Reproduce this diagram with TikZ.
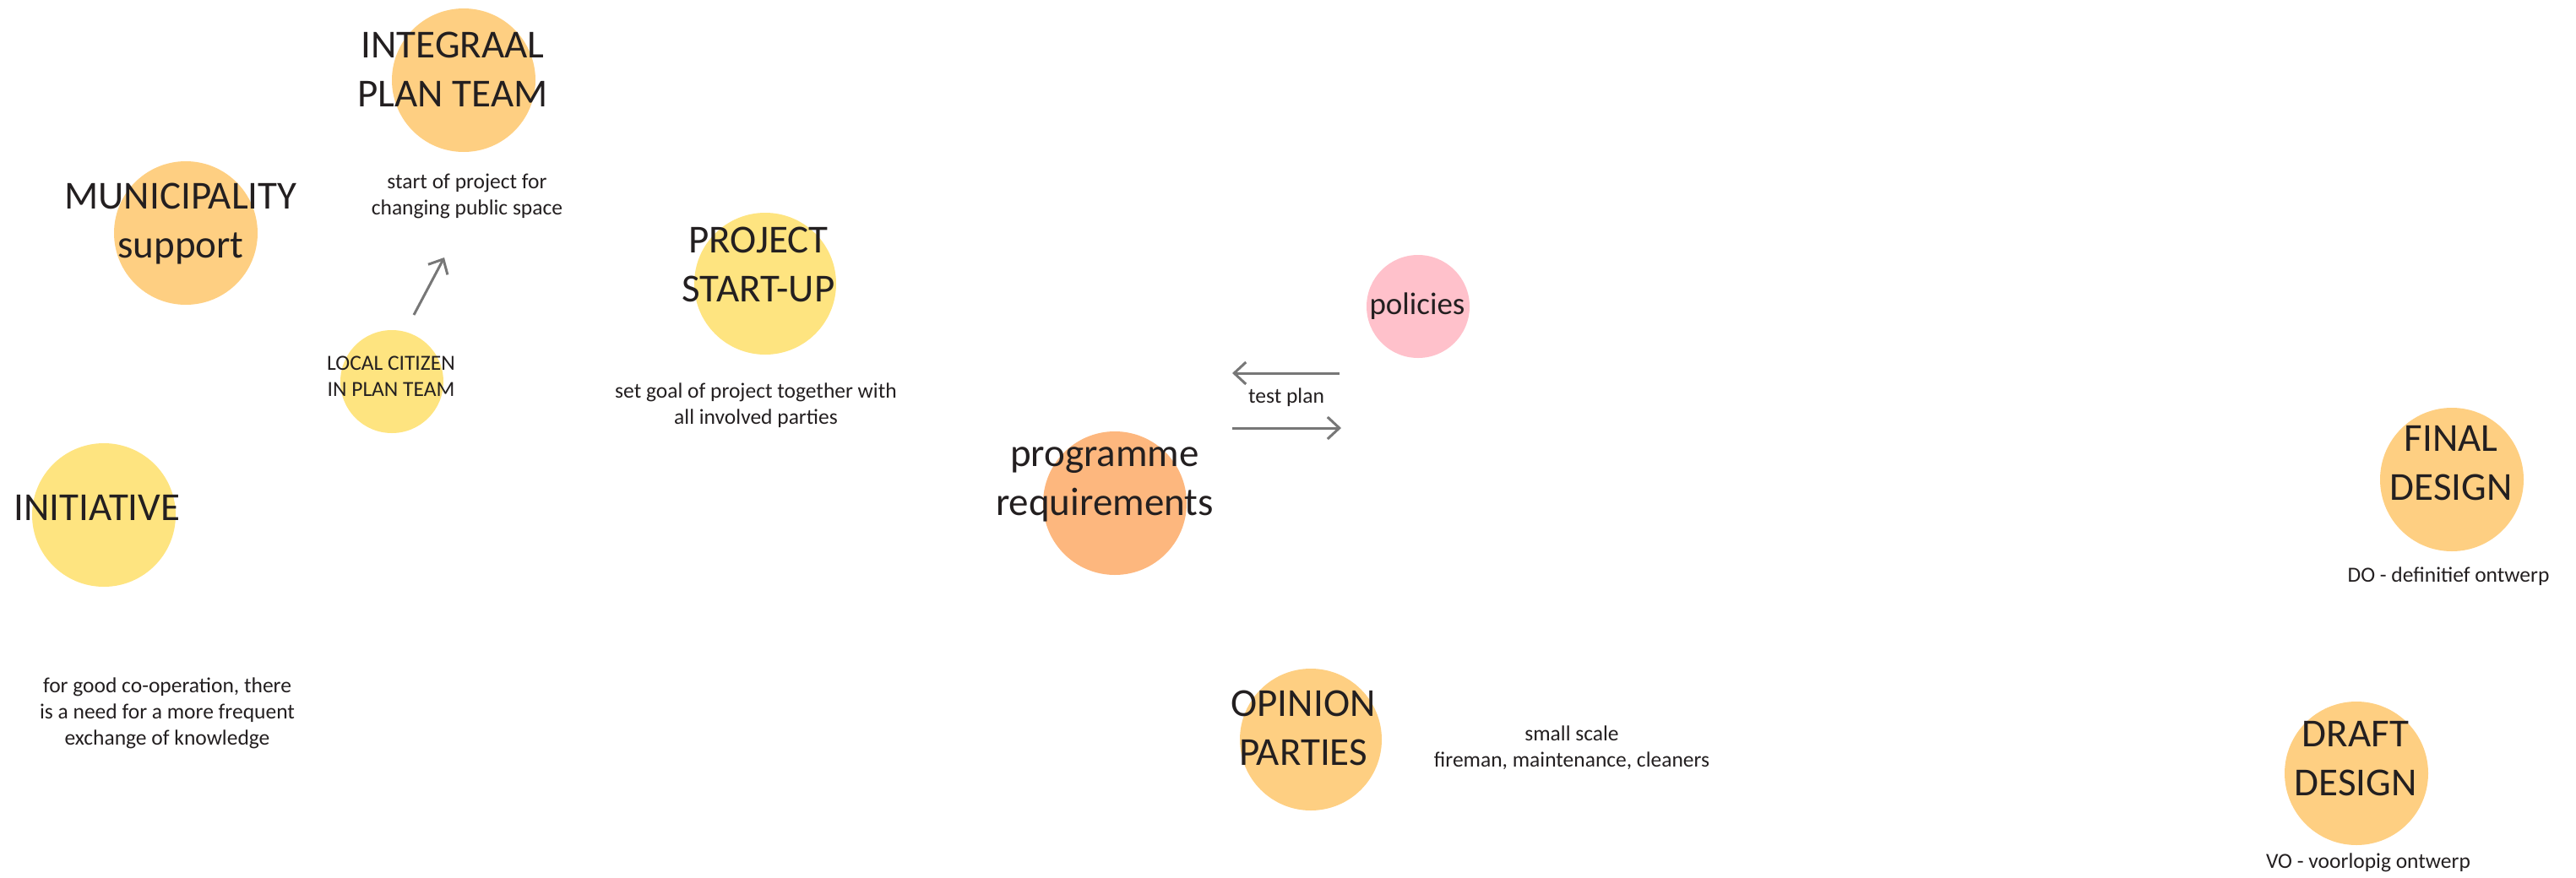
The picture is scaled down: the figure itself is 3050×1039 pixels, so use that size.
\documentclass[tikz,border=0pt]{standalone}
\usepackage{fontspec}
\setmainfont{Carlito}
\usetikzlibrary{arrows.meta}
\definecolor{blobOrange}{HTML}{FECF82}
\definecolor{blobYellow}{HTML}{FEE480}
\definecolor{blobPeach}{HTML}{FDB77E}
\definecolor{blobPink}{HTML}{FFC1CB}
\definecolor{inkDark}{HTML}{231F20}
\definecolor{arrowGray}{HTML}{777777}
\tikzset{
  blob/.style={circle, draw=none, inner sep=0pt},
  bigtext/.style={font=\fontsize{47}{57.5}\selectfont, text=inkDark, align=center, inner sep=0pt, anchor=base},
  midtext/.style={font=\fontsize{37}{44}\selectfont, text=inkDark, align=center, inner sep=0pt, anchor=base},
  smalltext/.style={font=\fontsize{25.5}{31}\selectfont, text=inkDark, align=center, inner sep=0pt, anchor=base},
  flowarrow/.style={draw=arrowGray, line width=3pt, -{Straight Barb[length=14pt,width=26pt,line width=3pt]}}
}
\begin{document}
\begin{tikzpicture}[x=1pt,y=-1pt]
\useasboundingbox (0,0) rectangle (3050,1039);
% circles
\node[blob, fill=blobOrange, minimum size=170pt] (cIntegraal) at (549,95) {};
\node[blob, fill=blobOrange, minimum size=170pt] (cMunicipality) at (220,276) {};
\node[blob, fill=blobYellow, minimum size=122pt] (cLocal) at (464,452) {};
\node[blob, fill=blobYellow, minimum size=170pt] (cInitiative) at (123,610) {};
\node[blob, fill=blobYellow, minimum size=168pt] (cProject) at (906,336) {};
\node[blob, fill=blobPink, minimum size=122pt] (cPolicies) at (1679,363) {};
\node[blob, fill=blobPeach, minimum size=170pt] (cProgramme) at (1320,596) {};
\node[blob, fill=blobOrange, minimum size=168pt] (cOpinion) at (1552,876) {};
\node[blob, fill=blobOrange, minimum size=170pt] (cFinal) at (2903,568) {};
\node[blob, fill=blobOrange, minimum size=170pt] (cDraft) at (2790,916) {};
% texts (anchor = baseline of the last line)
\node[bigtext] (tIntegraal) at (536,126) {INTEGRAAL\\PLAN TEAM};
\node[bigtext] (tMunicipality) at (214,305) {MUNICIPALITY\\support};
\node[smalltext] (tStart) at (553,254) {start of project for\\changing public space};
\node[smalltext] (tLocal) at (463,469) {LOCAL CITIZEN\\IN PLAN TEAM};
\node[bigtext] (tInitiative) at (115,616) {INITIATIVE};
\node[smalltext] (tCoop) at (198,882) {for good co-operation, there\\is a need for a more frequent\\exchange of knowledge};
\node[bigtext] (tProject) at (898,357) {PROJECT\\START-UP};
\node[smalltext] (tGoal) at (895,502) {set goal of project together with\\all involved parties};
\node[midtext] (tPolicies) at (1678,372) {policies};
\node[smalltext] (tTest) at (1523,477) {test plan};
\node[bigtext] (tProgramme) at (1308,610) {programme\\requirements};
\node[bigtext] (tOpinion) at (1543,906) {OPINION\\PARTIES};
\node[smalltext] (tScale) at (1861,908) {small scale\\fireman, maintenance, cleaners};
\node[bigtext] (tFinal) at (2902,592) {FINAL\\DESIGN};
\node[smalltext] (tDO) at (2899,689) {DO - definitief ontwerp};
\node[bigtext] (tDraft) at (2789,942) {DRAFT\\DESIGN};
\node[smalltext] (tVO) at (2804,1028) {VO - voorlopig ontwerp};
% arrows
\coordinate (aUpFrom) at (490,373);
\coordinate (aUpTo) at (526,305);
\coordinate (aLeftFrom) at (1586,442);
\coordinate (aLeftTo) at (1459,442);
\coordinate (aRightFrom) at (1459,507);
\coordinate (aRightTo) at (1588,507);
\draw[flowarrow] (aUpFrom) -- (aUpTo);
\draw[flowarrow] (aLeftFrom) -- (aLeftTo);
\draw[flowarrow] (aRightFrom) -- (aRightTo);
\end{tikzpicture}
\end{document}
